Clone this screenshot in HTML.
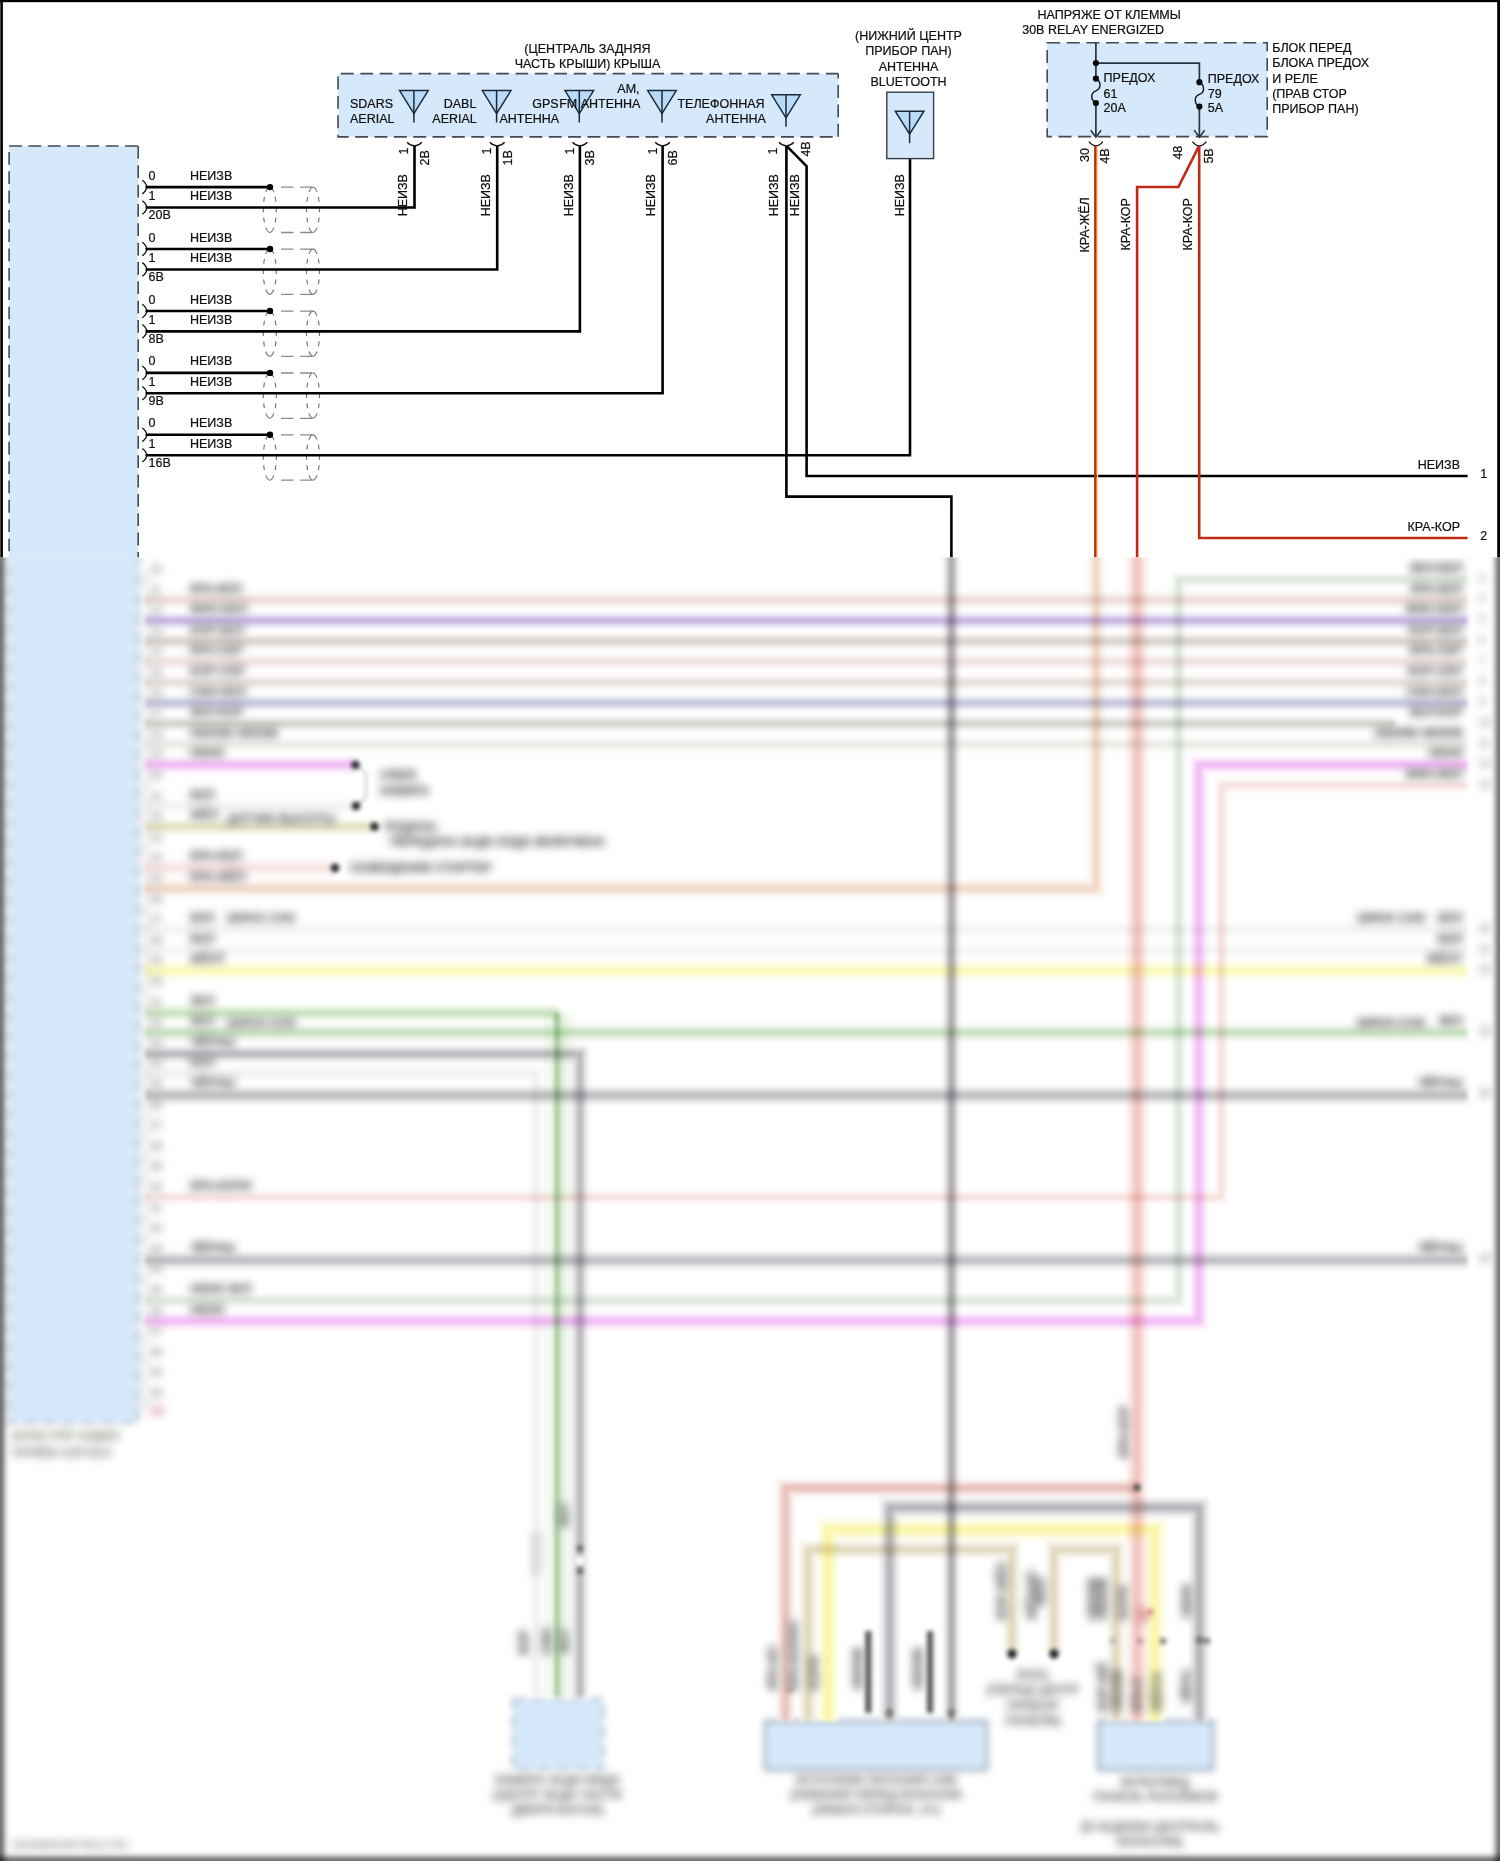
<!DOCTYPE html>
<html lang="ru"><head><meta charset="utf-8"><title>Wiring diagram</title>
<style>html,body{margin:0;padding:0;background:#fff;}svg{display:block;}text{font-family:"Liberation Sans",sans-serif;}</style></head><body>
<svg width="1500" height="1861" viewBox="0 0 1500 1861">
<defs>
<filter id="bl" color-interpolation-filters="sRGB" x="0" y="0" width="1500" height="1861" filterUnits="userSpaceOnUse"><feGaussianBlur stdDeviation="3.6"/></filter>
<filter id="bw" color-interpolation-filters="sRGB" x="0" y="0" width="1500" height="1861" filterUnits="userSpaceOnUse"><feGaussianBlur stdDeviation="2.0"/></filter>
<filter id="bt" color-interpolation-filters="sRGB" x="0" y="0" width="1500" height="1861" filterUnits="userSpaceOnUse"><feGaussianBlur stdDeviation="4.0"/></filter>
<clipPath id="cb"><rect x="0" y="557.5" width="1500" height="1303.5"/></clipPath>
<clipPath id="ct"><rect x="0" y="0" width="1500" height="557.5"/></clipPath>
</defs>
<rect x="0" y="0" width="1500" height="1861" fill="#fff"/>
<g clip-path="url(#ct)" opacity="0.999">
<rect x="9" y="146" width="129" height="413.5" fill="#d6e9fb"/>
<path d="M9.1,146 H138.2" fill="none" stroke="#414a55" stroke-width="1.6" stroke-dasharray="12.8 6.53" stroke-dashoffset="0"/>
<path d="M138.2,146 V559.5" fill="none" stroke="#414a55" stroke-width="1.6" stroke-dasharray="12.8 6.53" stroke-dashoffset="0"/>
<path d="M9.1,146 V559.5" fill="none" stroke="#414a55" stroke-width="1.6" stroke-dasharray="12.8 6.53" stroke-dashoffset="13.43"/>
<path d="M142.3,180.29999999999998 Q151.2,187.1 142.3,193.9" fill="none" stroke="#111" stroke-width="1.3"/>
<path d="M142.3,200.7 Q151.2,207.5 142.3,214.3" fill="none" stroke="#111" stroke-width="1.3"/>
<line x1="145.5" y1="187.1" x2="270" y2="187.1" stroke="#000" stroke-width="2.6" />
<text x="148.6" y="179.7" text-anchor="start" font-size="12.5" fill="#111" stroke="#111" stroke-width="0.22" >0</text>
<text x="190" y="179.7" text-anchor="start" font-size="12.5" fill="#111" stroke="#111" stroke-width="0.22" >НЕИЗВ</text>
<text x="148.6" y="200.1" text-anchor="start" font-size="12.5" fill="#111" stroke="#111" stroke-width="0.22" >1</text>
<text x="190" y="200.1" text-anchor="start" font-size="12.5" fill="#111" stroke="#111" stroke-width="0.22" >НЕИЗВ</text>
<text x="148.6" y="219.4" text-anchor="start" font-size="12.5" fill="#111" stroke="#111" stroke-width="0.22" >20B</text>
<path d="M265.80,191.99 A6.5,22.6 0 0 1 273.80,191.99 M275.12,196.84 A6.5,22.6 0 0 1 275.87,201.70 M276.28,208.22 A6.5,22.6 0 0 1 276.26,212.16 M275.91,217.53 A6.5,22.6 0 0 1 275.19,222.44 M273.80,227.61 A6.5,22.6 0 0 1 265.80,227.61 M264.41,222.44 A6.5,22.6 0 0 1 263.69,217.53 M263.34,212.16 A6.5,22.6 0 0 1 263.32,208.22 M263.73,201.70 A6.5,22.6 0 0 1 264.48,196.84 M309.00,191.99 A6.5,22.6 0 0 1 317.00,191.99 M318.32,196.84 A6.5,22.6 0 0 1 319.07,201.70 M319.48,208.22 A6.5,22.6 0 0 1 319.46,212.16 M319.11,217.53 A6.5,22.6 0 0 1 318.39,222.44 M317.00,227.61 A6.5,22.6 0 0 1 309.00,227.61 M307.61,222.44 A6.5,22.6 0 0 1 306.89,217.53 M306.54,212.16 A6.5,22.6 0 0 1 306.52,208.22 M306.93,201.70 A6.5,22.6 0 0 1 307.68,196.84 " fill="none" stroke="#747474" stroke-width="1.15"/>
<path d="M281,187.2 H293.5 M300.2,187.2 H312 M281,232.5 H293.5 M300.2,232.5 H312" stroke="#8a8a8a" stroke-width="1.3" fill="none"/>
<circle cx="270" cy="187.1" r="3.2" fill="#000"/>
<polyline points="145.5,207.5 414.5,207.5 414.5,145.8" fill="none" stroke="#000" stroke-width="2.6" stroke-linejoin="miter" />
<path d="M142.3,242.23 Q151.2,249.03 142.3,255.83" fill="none" stroke="#111" stroke-width="1.3"/>
<path d="M142.3,262.63 Q151.2,269.43 142.3,276.23" fill="none" stroke="#111" stroke-width="1.3"/>
<line x1="145.5" y1="249.03" x2="270" y2="249.03" stroke="#000" stroke-width="2.6" />
<text x="148.6" y="241.63" text-anchor="start" font-size="12.5" fill="#111" stroke="#111" stroke-width="0.22" >0</text>
<text x="190" y="241.63" text-anchor="start" font-size="12.5" fill="#111" stroke="#111" stroke-width="0.22" >НЕИЗВ</text>
<text x="148.6" y="262.03000000000003" text-anchor="start" font-size="12.5" fill="#111" stroke="#111" stroke-width="0.22" >1</text>
<text x="190" y="262.03000000000003" text-anchor="start" font-size="12.5" fill="#111" stroke="#111" stroke-width="0.22" >НЕИЗВ</text>
<text x="148.6" y="281.33" text-anchor="start" font-size="12.5" fill="#111" stroke="#111" stroke-width="0.22" >6B</text>
<path d="M265.80,253.92 A6.5,22.6 0 0 1 273.80,253.92 M275.12,258.77 A6.5,22.6 0 0 1 275.87,263.63 M276.28,270.15 A6.5,22.6 0 0 1 276.26,274.09 M275.91,279.46 A6.5,22.6 0 0 1 275.19,284.37 M273.80,289.54 A6.5,22.6 0 0 1 265.80,289.54 M264.41,284.37 A6.5,22.6 0 0 1 263.69,279.46 M263.34,274.09 A6.5,22.6 0 0 1 263.32,270.15 M263.73,263.63 A6.5,22.6 0 0 1 264.48,258.77 M309.00,253.92 A6.5,22.6 0 0 1 317.00,253.92 M318.32,258.77 A6.5,22.6 0 0 1 319.07,263.63 M319.48,270.15 A6.5,22.6 0 0 1 319.46,274.09 M319.11,279.46 A6.5,22.6 0 0 1 318.39,284.37 M317.00,289.54 A6.5,22.6 0 0 1 309.00,289.54 M307.61,284.37 A6.5,22.6 0 0 1 306.89,279.46 M306.54,274.09 A6.5,22.6 0 0 1 306.52,270.15 M306.93,263.63 A6.5,22.6 0 0 1 307.68,258.77 " fill="none" stroke="#747474" stroke-width="1.15"/>
<path d="M281,249.13 H293.5 M300.2,249.13 H312 M281,294.43 H293.5 M300.2,294.43 H312" stroke="#8a8a8a" stroke-width="1.3" fill="none"/>
<circle cx="270" cy="249.03" r="3.2" fill="#000"/>
<polyline points="145.5,269.43 497.2,269.43 497.2,145.8" fill="none" stroke="#000" stroke-width="2.6" stroke-linejoin="miter" />
<path d="M142.3,304.15999999999997 Q151.2,310.96 142.3,317.76" fill="none" stroke="#111" stroke-width="1.3"/>
<path d="M142.3,324.56 Q151.2,331.36 142.3,338.16" fill="none" stroke="#111" stroke-width="1.3"/>
<line x1="145.5" y1="310.96" x2="270" y2="310.96" stroke="#000" stroke-width="2.6" />
<text x="148.6" y="303.56" text-anchor="start" font-size="12.5" fill="#111" stroke="#111" stroke-width="0.22" >0</text>
<text x="190" y="303.56" text-anchor="start" font-size="12.5" fill="#111" stroke="#111" stroke-width="0.22" >НЕИЗВ</text>
<text x="148.6" y="323.96000000000004" text-anchor="start" font-size="12.5" fill="#111" stroke="#111" stroke-width="0.22" >1</text>
<text x="190" y="323.96000000000004" text-anchor="start" font-size="12.5" fill="#111" stroke="#111" stroke-width="0.22" >НЕИЗВ</text>
<text x="148.6" y="343.26" text-anchor="start" font-size="12.5" fill="#111" stroke="#111" stroke-width="0.22" >8B</text>
<path d="M265.80,315.85 A6.5,22.6 0 0 1 273.80,315.85 M275.12,320.70 A6.5,22.6 0 0 1 275.87,325.56 M276.28,332.08 A6.5,22.6 0 0 1 276.26,336.02 M275.91,341.39 A6.5,22.6 0 0 1 275.19,346.30 M273.80,351.47 A6.5,22.6 0 0 1 265.80,351.47 M264.41,346.30 A6.5,22.6 0 0 1 263.69,341.39 M263.34,336.02 A6.5,22.6 0 0 1 263.32,332.08 M263.73,325.56 A6.5,22.6 0 0 1 264.48,320.70 M309.00,315.85 A6.5,22.6 0 0 1 317.00,315.85 M318.32,320.70 A6.5,22.6 0 0 1 319.07,325.56 M319.48,332.08 A6.5,22.6 0 0 1 319.46,336.02 M319.11,341.39 A6.5,22.6 0 0 1 318.39,346.30 M317.00,351.47 A6.5,22.6 0 0 1 309.00,351.47 M307.61,346.30 A6.5,22.6 0 0 1 306.89,341.39 M306.54,336.02 A6.5,22.6 0 0 1 306.52,332.08 M306.93,325.56 A6.5,22.6 0 0 1 307.68,320.70 " fill="none" stroke="#747474" stroke-width="1.15"/>
<path d="M281,311.06 H293.5 M300.2,311.06 H312 M281,356.35999999999996 H293.5 M300.2,356.35999999999996 H312" stroke="#8a8a8a" stroke-width="1.3" fill="none"/>
<circle cx="270" cy="310.96" r="3.2" fill="#000"/>
<polyline points="145.5,331.36 579.9,331.36 579.9,145.8" fill="none" stroke="#000" stroke-width="2.6" stroke-linejoin="miter" />
<path d="M142.3,366.09 Q151.2,372.89 142.3,379.69" fill="none" stroke="#111" stroke-width="1.3"/>
<path d="M142.3,386.48999999999995 Q151.2,393.28999999999996 142.3,400.09" fill="none" stroke="#111" stroke-width="1.3"/>
<line x1="145.5" y1="372.89" x2="270" y2="372.89" stroke="#000" stroke-width="2.6" />
<text x="148.6" y="365.49" text-anchor="start" font-size="12.5" fill="#111" stroke="#111" stroke-width="0.22" >0</text>
<text x="190" y="365.49" text-anchor="start" font-size="12.5" fill="#111" stroke="#111" stroke-width="0.22" >НЕИЗВ</text>
<text x="148.6" y="385.89" text-anchor="start" font-size="12.5" fill="#111" stroke="#111" stroke-width="0.22" >1</text>
<text x="190" y="385.89" text-anchor="start" font-size="12.5" fill="#111" stroke="#111" stroke-width="0.22" >НЕИЗВ</text>
<text x="148.6" y="405.18999999999994" text-anchor="start" font-size="12.5" fill="#111" stroke="#111" stroke-width="0.22" >9B</text>
<path d="M265.80,377.78 A6.5,22.6 0 0 1 273.80,377.78 M275.12,382.63 A6.5,22.6 0 0 1 275.87,387.49 M276.28,394.01 A6.5,22.6 0 0 1 276.26,397.95 M275.91,403.32 A6.5,22.6 0 0 1 275.19,408.23 M273.80,413.40 A6.5,22.6 0 0 1 265.80,413.40 M264.41,408.23 A6.5,22.6 0 0 1 263.69,403.32 M263.34,397.95 A6.5,22.6 0 0 1 263.32,394.01 M263.73,387.49 A6.5,22.6 0 0 1 264.48,382.63 M309.00,377.78 A6.5,22.6 0 0 1 317.00,377.78 M318.32,382.63 A6.5,22.6 0 0 1 319.07,387.49 M319.48,394.01 A6.5,22.6 0 0 1 319.46,397.95 M319.11,403.32 A6.5,22.6 0 0 1 318.39,408.23 M317.00,413.40 A6.5,22.6 0 0 1 309.00,413.40 M307.61,408.23 A6.5,22.6 0 0 1 306.89,403.32 M306.54,397.95 A6.5,22.6 0 0 1 306.52,394.01 M306.93,387.49 A6.5,22.6 0 0 1 307.68,382.63 " fill="none" stroke="#747474" stroke-width="1.15"/>
<path d="M281,372.99 H293.5 M300.2,372.99 H312 M281,418.28999999999996 H293.5 M300.2,418.28999999999996 H312" stroke="#8a8a8a" stroke-width="1.3" fill="none"/>
<circle cx="270" cy="372.89" r="3.2" fill="#000"/>
<polyline points="145.5,393.28999999999996 662.6,393.28999999999996 662.6,145.8" fill="none" stroke="#000" stroke-width="2.6" stroke-linejoin="miter" />
<path d="M142.3,428.02 Q151.2,434.82 142.3,441.62" fill="none" stroke="#111" stroke-width="1.3"/>
<path d="M142.3,448.42 Q151.2,455.22 142.3,462.02000000000004" fill="none" stroke="#111" stroke-width="1.3"/>
<line x1="145.5" y1="434.82" x2="270" y2="434.82" stroke="#000" stroke-width="2.6" />
<text x="148.6" y="427.42" text-anchor="start" font-size="12.5" fill="#111" stroke="#111" stroke-width="0.22" >0</text>
<text x="190" y="427.42" text-anchor="start" font-size="12.5" fill="#111" stroke="#111" stroke-width="0.22" >НЕИЗВ</text>
<text x="148.6" y="447.82000000000005" text-anchor="start" font-size="12.5" fill="#111" stroke="#111" stroke-width="0.22" >1</text>
<text x="190" y="447.82000000000005" text-anchor="start" font-size="12.5" fill="#111" stroke="#111" stroke-width="0.22" >НЕИЗВ</text>
<text x="148.6" y="467.12" text-anchor="start" font-size="12.5" fill="#111" stroke="#111" stroke-width="0.22" >16B</text>
<path d="M265.80,439.71 A6.5,22.6 0 0 1 273.80,439.71 M275.12,444.56 A6.5,22.6 0 0 1 275.87,449.42 M276.28,455.94 A6.5,22.6 0 0 1 276.26,459.88 M275.91,465.25 A6.5,22.6 0 0 1 275.19,470.16 M273.80,475.33 A6.5,22.6 0 0 1 265.80,475.33 M264.41,470.16 A6.5,22.6 0 0 1 263.69,465.25 M263.34,459.88 A6.5,22.6 0 0 1 263.32,455.94 M263.73,449.42 A6.5,22.6 0 0 1 264.48,444.56 M309.00,439.71 A6.5,22.6 0 0 1 317.00,439.71 M318.32,444.56 A6.5,22.6 0 0 1 319.07,449.42 M319.48,455.94 A6.5,22.6 0 0 1 319.46,459.88 M319.11,465.25 A6.5,22.6 0 0 1 318.39,470.16 M317.00,475.33 A6.5,22.6 0 0 1 309.00,475.33 M307.61,470.16 A6.5,22.6 0 0 1 306.89,465.25 M306.54,459.88 A6.5,22.6 0 0 1 306.52,455.94 M306.93,449.42 A6.5,22.6 0 0 1 307.68,444.56 " fill="none" stroke="#747474" stroke-width="1.15"/>
<path d="M281,434.92 H293.5 M300.2,434.92 H312 M281,480.21999999999997 H293.5 M300.2,480.21999999999997 H312" stroke="#8a8a8a" stroke-width="1.3" fill="none"/>
<circle cx="270" cy="434.82" r="3.2" fill="#000"/>
<polyline points="145.5,455.22 910.0,455.22 910.0,158.6" fill="none" stroke="#000" stroke-width="2.6" stroke-linejoin="miter" />
<rect x="338" y="73.65" width="500.2" height="63.2" fill="#d6e9fb"/>
<path d="M338,73.65 V136.85 H838.2" fill="none" stroke="#414a55" stroke-width="1.6" stroke-dasharray="12.9 6.46" stroke-dashoffset="16.46"/>
<path d="M838.2,136.85 V73.65" fill="none" stroke="#414a55" stroke-width="1.6" stroke-dasharray="13 6.45" stroke-dashoffset="0"/>
<path d="M338,73.65 H838.2" fill="none" stroke="#414a55" stroke-width="1.6" stroke-dasharray="12.6 6.8" stroke-dashoffset="16.4"/>
<text x="587.5" y="53.0" text-anchor="middle" font-size="12.5" fill="#111" stroke="#111" stroke-width="0.22" >(ЦЕНТРАЛЬ ЗАДНЯЯ</text>
<text x="587.5" y="68.4" text-anchor="middle" font-size="12.5" fill="#111" stroke="#111" stroke-width="0.22" >ЧАСТЬ КРЫШИ) КРЫША</text>
<path d="M399.59999999999997,90.6 H428.2 L413.9,113.6 Z" fill="#b9dbf8" stroke="#1b2a3a" stroke-width="1.5" stroke-linejoin="miter"/>
<line x1="413.9" y1="90.6" x2="413.9" y2="122.5" stroke="#1b2a3a" stroke-width="1.5"/>
<path d="M407.1,142.2 Q410.5,145.79999999999998 414.5,145.79999999999998 Q418.5,145.79999999999998 421.9,142.2" fill="none" stroke="#111" stroke-width="1.3"/>
<text transform="translate(408.4,154.4) rotate(-90)" text-anchor="start" font-size="12.5" fill="#111" stroke="#111" stroke-width="0.22">1</text>
<text transform="translate(429.0,165.4) rotate(-90)" text-anchor="start" font-size="12.5" fill="#111" stroke="#111" stroke-width="0.22">2B</text>
<text transform="translate(407.3,216.3) rotate(-90)" text-anchor="start" font-size="12.5" fill="#111" stroke="#111" stroke-width="0.22">НЕИЗВ</text>
<path d="M482.29999999999995,90.6 H510.9 L496.59999999999997,113.6 Z" fill="#b9dbf8" stroke="#1b2a3a" stroke-width="1.5" stroke-linejoin="miter"/>
<line x1="496.59999999999997" y1="90.6" x2="496.59999999999997" y2="122.5" stroke="#1b2a3a" stroke-width="1.5"/>
<path d="M489.8,142.2 Q493.2,145.79999999999998 497.2,145.79999999999998 Q501.2,145.79999999999998 504.59999999999997,142.2" fill="none" stroke="#111" stroke-width="1.3"/>
<text transform="translate(491.09999999999997,154.4) rotate(-90)" text-anchor="start" font-size="12.5" fill="#111" stroke="#111" stroke-width="0.22">1</text>
<text transform="translate(511.7,165.4) rotate(-90)" text-anchor="start" font-size="12.5" fill="#111" stroke="#111" stroke-width="0.22">1B</text>
<text transform="translate(490.0,216.3) rotate(-90)" text-anchor="start" font-size="12.5" fill="#111" stroke="#111" stroke-width="0.22">НЕИЗВ</text>
<path d="M565.0,90.6 H593.5999999999999 L579.3,113.6 Z" fill="#b9dbf8" stroke="#1b2a3a" stroke-width="1.5" stroke-linejoin="miter"/>
<line x1="579.3" y1="90.6" x2="579.3" y2="122.5" stroke="#1b2a3a" stroke-width="1.5"/>
<path d="M572.5,142.2 Q575.9,145.79999999999998 579.9,145.79999999999998 Q583.9,145.79999999999998 587.3,142.2" fill="none" stroke="#111" stroke-width="1.3"/>
<text transform="translate(573.8,154.4) rotate(-90)" text-anchor="start" font-size="12.5" fill="#111" stroke="#111" stroke-width="0.22">1</text>
<text transform="translate(594.4,165.4) rotate(-90)" text-anchor="start" font-size="12.5" fill="#111" stroke="#111" stroke-width="0.22">3B</text>
<text transform="translate(572.6999999999999,216.3) rotate(-90)" text-anchor="start" font-size="12.5" fill="#111" stroke="#111" stroke-width="0.22">НЕИЗВ</text>
<path d="M647.7,90.6 H676.3 L662.0,113.6 Z" fill="#b9dbf8" stroke="#1b2a3a" stroke-width="1.5" stroke-linejoin="miter"/>
<line x1="662.0" y1="90.6" x2="662.0" y2="122.5" stroke="#1b2a3a" stroke-width="1.5"/>
<path d="M655.2,142.2 Q658.6,145.79999999999998 662.6,145.79999999999998 Q666.6,145.79999999999998 670.0,142.2" fill="none" stroke="#111" stroke-width="1.3"/>
<text transform="translate(656.5,154.4) rotate(-90)" text-anchor="start" font-size="12.5" fill="#111" stroke="#111" stroke-width="0.22">1</text>
<text transform="translate(677.1,165.4) rotate(-90)" text-anchor="start" font-size="12.5" fill="#111" stroke="#111" stroke-width="0.22">6B</text>
<text transform="translate(655.4,216.3) rotate(-90)" text-anchor="start" font-size="12.5" fill="#111" stroke="#111" stroke-width="0.22">НЕИЗВ</text>
<text x="350" y="107.6" text-anchor="start" font-size="12.5" fill="#111" stroke="#111" stroke-width="0.22" >SDARS</text>
<text x="350" y="122.5" text-anchor="start" font-size="12.5" fill="#111" stroke="#111" stroke-width="0.22" >AERIAL</text>
<text x="476.4" y="107.6" text-anchor="end" font-size="12.5" fill="#111" stroke="#111" stroke-width="0.22" >DABL</text>
<text x="476.8" y="122.5" text-anchor="end" font-size="12.5" fill="#111" stroke="#111" stroke-width="0.22" >AERIAL</text>
<text x="558.6" y="107.6" text-anchor="end" font-size="12.5" fill="#111" stroke="#111" stroke-width="0.22" >GPS</text>
<text x="559.2" y="122.5" text-anchor="end" font-size="12.5" fill="#111" stroke="#111" stroke-width="0.22" >АНТЕННА</text>
<text x="639.6" y="92.9" text-anchor="end" font-size="12.5" fill="#111" stroke="#111" stroke-width="0.22" >АМ,</text>
<text x="640.4" y="107.6" text-anchor="end" font-size="12.5" fill="#111" stroke="#111" stroke-width="0.22" >FM АНТЕННА</text>
<text x="764.6" y="107.6" text-anchor="end" font-size="12.5" fill="#111" stroke="#111" stroke-width="0.22" >ТЕЛЕФОННАЯ</text>
<text x="765.8" y="122.5" text-anchor="end" font-size="12.5" fill="#111" stroke="#111" stroke-width="0.22" >АНТЕННА</text>
<path d="M771.7,94.8 H800.3 L786.0,117.8 Z" fill="#b9dbf8" stroke="#1b2a3a" stroke-width="1.5" stroke-linejoin="miter"/>
<line x1="786.0" y1="94.8" x2="786.0" y2="126.69999999999999" stroke="#1b2a3a" stroke-width="1.5"/>
<path d="M779.0,142.2 Q782.4,145.79999999999998 786.4,145.79999999999998 Q790.4,145.79999999999998 793.8,142.2" fill="none" stroke="#111" stroke-width="1.3"/>
<polyline points="786.4,145.8 786.4,496.6 951.4,496.6 951.4,558.5" fill="none" stroke="#000" stroke-width="2.6" stroke-linejoin="miter" />
<polyline points="786.8,146.2 806.6,166.2 806.6,476 1467.6,476" fill="none" stroke="#000" stroke-width="2.6" stroke-linejoin="miter" />
<text transform="translate(777.2,154.4) rotate(-90)" text-anchor="start" font-size="12.5" fill="#111" stroke="#111" stroke-width="0.22">1</text>
<text transform="translate(810.2,156.6) rotate(-90)" text-anchor="start" font-size="12.5" fill="#111" stroke="#111" stroke-width="0.22">4B</text>
<text transform="translate(778.2,216.3) rotate(-90)" text-anchor="start" font-size="12.5" fill="#111" stroke="#111" stroke-width="0.22">НЕИЗВ</text>
<text transform="translate(798.8,216.3) rotate(-90)" text-anchor="start" font-size="12.5" fill="#111" stroke="#111" stroke-width="0.22">НЕИЗВ</text>
<text x="908.5" y="40" text-anchor="middle" font-size="12.5" fill="#111" stroke="#111" stroke-width="0.22" >(НИЖНИЙ ЦЕНТР</text>
<text x="908.5" y="55.4" text-anchor="middle" font-size="12.5" fill="#111" stroke="#111" stroke-width="0.22" >ПРИБОР ПАН)</text>
<text x="908.5" y="70.9" text-anchor="middle" font-size="12.5" fill="#111" stroke="#111" stroke-width="0.22" >АНТЕННА</text>
<text x="908.5" y="86.3" text-anchor="middle" font-size="12.5" fill="#111" stroke="#111" stroke-width="0.22" >BLUETOOTH</text>
<rect x="886.8" y="92.2" width="46.8" height="66.4" fill="#d6e9fb" stroke="#333c46" stroke-width="1.4"/>
<path d="M895.3000000000001,111.2 H923.9 L909.6,134.2 Z" fill="#b9dbf8" stroke="#1b2a3a" stroke-width="1.5" stroke-linejoin="miter"/>
<line x1="909.6" y1="111.2" x2="909.6" y2="143.1" stroke="#1b2a3a" stroke-width="1.5"/>
<text transform="translate(903.8,216.3) rotate(-90)" text-anchor="start" font-size="12.5" fill="#111" stroke="#111" stroke-width="0.22">НЕИЗВ</text>
<text x="1037.6" y="18.6" text-anchor="start" font-size="12.5" fill="#111" stroke="#111" stroke-width="0.22" >НАПРЯЖЕ ОТ КЛЕММЫ</text>
<text x="1022.2" y="34.0" text-anchor="start" font-size="12.5" fill="#111" stroke="#111" stroke-width="0.22" >30B RELAY ENERGIZED</text>
<rect x="1047.2" y="42.7" width="220" height="93.9" fill="#d6e9fb"/>
<path d="M1047.2,42.7 H1267.2 V136.6 H1047.2 Z" fill="none" stroke="#414a55" stroke-width="1.6" stroke-dasharray="13 6.6" stroke-dashoffset="0"/>
<line x1="1095.9" y1="42.8" x2="1095.9" y2="78.6" stroke="#2a3440" stroke-width="1.7" />
<line x1="1095.9" y1="103" x2="1095.9" y2="136.6" stroke="#2a3440" stroke-width="1.7" />
<polyline points="1095.9,63.1 1199.4,63.1 1199.4,82.2" fill="none" stroke="#2a3440" stroke-width="1.7" stroke-linejoin="miter" />
<line x1="1199.4" y1="106.6" x2="1199.4" y2="136.6" stroke="#2a3440" stroke-width="1.7" />
<circle cx="1095.9" cy="63.1" r="3.1" fill="#0a0a0a"/>
<circle cx="1095.9" cy="78.6" r="3.1" fill="#0a0a0a"/>
<circle cx="1095.9" cy="103" r="3.1" fill="#0a0a0a"/>
<circle cx="1199.4" cy="82.2" r="3.1" fill="#0a0a0a"/>
<circle cx="1199.4" cy="106.6" r="3.1" fill="#0a0a0a"/>
<path d="M1095.9,78.6 C1101.4,81.6 1101.4,88.8 1095.9,90.8 C1090.4,92.8 1090.4,100 1095.9,103" fill="none" stroke="#111" stroke-width="1.4"/>
<path d="M1199.4,82.2 C1204.9,85.2 1204.9,92.4 1199.4,94.4 C1193.9,96.4 1193.9,103.6 1199.4,106.6" fill="none" stroke="#111" stroke-width="1.4"/>
<path d="M1090.7,130.2 L1095.9,137.2 L1101.1000000000001,130.2" fill="none" stroke="#2a3440" stroke-width="1.5"/>
<path d="M1088.9,141.6 Q1092.4,145.8 1095.9,145.8 Q1099.4,145.8 1102.9,141.6" fill="none" stroke="#111" stroke-width="1.3"/>
<path d="M1194.2,130.2 L1199.4,137.2 L1204.6000000000001,130.2" fill="none" stroke="#2a3440" stroke-width="1.5"/>
<path d="M1192.4,141.6 Q1195.9,145.8 1199.4,145.8 Q1202.9,145.8 1206.4,141.6" fill="none" stroke="#111" stroke-width="1.3"/>
<text x="1103.6" y="82.2" text-anchor="start" font-size="12.5" fill="#111" stroke="#111" stroke-width="0.22" >ПРЕДОХ</text>
<text x="1103.6" y="97.5" text-anchor="start" font-size="12.5" fill="#111" stroke="#111" stroke-width="0.22" >61</text>
<text x="1103.6" y="111.5" text-anchor="start" font-size="12.5" fill="#111" stroke="#111" stroke-width="0.22" >20A</text>
<text x="1207.8" y="82.6" text-anchor="start" font-size="12.5" fill="#111" stroke="#111" stroke-width="0.22" >ПРЕДОХ</text>
<text x="1207.8" y="98" text-anchor="start" font-size="12.5" fill="#111" stroke="#111" stroke-width="0.22" >79</text>
<text x="1207.8" y="112" text-anchor="start" font-size="12.5" fill="#111" stroke="#111" stroke-width="0.22" >5A</text>
<text x="1272.2" y="51.6" text-anchor="start" font-size="12.5" fill="#111" stroke="#111" stroke-width="0.22" >БЛОК ПЕРЕД</text>
<text x="1272.2" y="67.05" text-anchor="start" font-size="12.5" fill="#111" stroke="#111" stroke-width="0.22" >БЛОКА ПРЕДОХ</text>
<text x="1272.2" y="82.5" text-anchor="start" font-size="12.5" fill="#111" stroke="#111" stroke-width="0.22" >И РЕЛЕ</text>
<text x="1272.2" y="97.94999999999999" text-anchor="start" font-size="12.5" fill="#111" stroke="#111" stroke-width="0.22" >(ПРАВ СТОР</text>
<text x="1272.2" y="113.4" text-anchor="start" font-size="12.5" fill="#111" stroke="#111" stroke-width="0.22" >ПРИБОР ПАН)</text>
<text transform="translate(1088.9,162) rotate(-90)" text-anchor="start" font-size="12.5" fill="#111" stroke="#111" stroke-width="0.22">30</text>
<text transform="translate(1109.2,163.6) rotate(-90)" text-anchor="start" font-size="12.5" fill="#111" stroke="#111" stroke-width="0.22">4B</text>
<text transform="translate(1181.8,159.6) rotate(-90)" text-anchor="start" font-size="12.5" fill="#111" stroke="#111" stroke-width="0.22">48</text>
<text transform="translate(1212.6,163.6) rotate(-90)" text-anchor="start" font-size="12.5" fill="#111" stroke="#111" stroke-width="0.22">5B</text>
<line x1="1095.4" y1="146" x2="1095.4" y2="558.5" stroke="#c02a14" stroke-width="2.6" />
<line x1="1097.5" y1="146" x2="1097.5" y2="558.5" stroke="#ffe27a" stroke-width="1.3" />
<polyline points="1198.8,146.4 1178.4,187 1137.1,187 1137.1,558.5" fill="none" stroke="#c02a14" stroke-width="2.6" stroke-linejoin="miter" />
<polyline points="1199.2,146 1199.2,538 1467.6,538" fill="none" stroke="#c02a14" stroke-width="2.6" stroke-linejoin="miter" />
<text transform="translate(1088.8,252.6) rotate(-90)" text-anchor="start" font-size="12.5" fill="#111" stroke="#111" stroke-width="0.22">КРА-ЖЁЛ</text>
<text transform="translate(1130,250.6) rotate(-90)" text-anchor="start" font-size="12.5" fill="#111" stroke="#111" stroke-width="0.22">КРА-КОР</text>
<text transform="translate(1192,250.6) rotate(-90)" text-anchor="start" font-size="12.5" fill="#111" stroke="#111" stroke-width="0.22">КРА-КОР</text>
<text x="1460" y="468.6" text-anchor="end" font-size="12.5" fill="#111" stroke="#111" stroke-width="0.22" >НЕИЗВ</text>
<text x="1460" y="530.8" text-anchor="end" font-size="12.5" fill="#111" stroke="#111" stroke-width="0.22" >КРА-КОР</text>
<text x="1480.2" y="478" text-anchor="start" font-size="12.5" fill="#111" stroke="#111" stroke-width="0.22" >1</text>
<text x="1480.2" y="540.4" text-anchor="start" font-size="12.5" fill="#111" stroke="#111" stroke-width="0.22" >2</text>
<rect x="0.3" y="0" width="2.6" height="1861" fill="#000"/><rect x="1497.2" y="0" width="2.8" height="1861" fill="#000"/><rect x="0" y="0" width="1500" height="2.2" fill="#000"/>
</g>
<g clip-path="url(#cb)">
<g filter="url(#bl)">
<rect x="-20" y="537.5" width="1540" height="1400" fill="#fff"/>
<rect x="9" y="545.5" width="129" height="877.5" fill="#d6e9fb"/>
<path d="M9,545.5 V1423 H138 V545.5" fill="none" stroke="#8591a0" stroke-width="1.7" stroke-dasharray="12.4 7"/>
<rect x="513" y="1699" width="90" height="70" fill="#d6e9fb"/>
<path d="M513,1699 H603 V1769 H513 Z" fill="none" stroke="#8591a0" stroke-width="1.7" stroke-dasharray="12.4 7"/>
<rect x="765" y="1721" width="222" height="49" fill="#d6e9fb" stroke="#66788a" stroke-width="1.8"/>
<rect x="1098" y="1721" width="115" height="49" fill="#d6e9fb" stroke="#66788a" stroke-width="1.8"/>
<rect x="-2.7" y="500" width="5.4" height="1400" fill="#000"/><rect x="1497.3" y="500" width="5.4" height="1400" fill="#000"/><rect x="-10" y="1858.3" width="1520" height="5.4" fill="#000"/>
</g>
<g filter="url(#bw)">
<polyline points="951.4,545.5 951.4,1721" fill="none" stroke="#e3e1e3" stroke-width="14.4" stroke-linejoin="miter" style="mix-blend-mode:multiply" stroke-linejoin="round"/>
<polyline points="951.4,545.5 951.4,1721" fill="none" stroke="#bfbcbf" stroke-width="6.4" stroke-linejoin="miter" style="mix-blend-mode:multiply"/>
<polyline points="1096.2,545.5 1096.2,888.4 145.5,888.4" fill="none" stroke="#faf2ec" stroke-width="15.75" stroke-linejoin="miter" style="mix-blend-mode:multiply" stroke-linejoin="round"/>
<polyline points="1096.2,545.5 1096.2,888.4 145.5,888.4" fill="none" stroke="#f6e4d8" stroke-width="7" stroke-linejoin="miter" style="mix-blend-mode:multiply"/>
<polyline points="1137.1,545.5 1137.1,1721" fill="none" stroke="#fbebe9" stroke-width="20.25" stroke-linejoin="miter" style="mix-blend-mode:multiply" stroke-linejoin="round"/>
<polyline points="1137.1,545.5 1137.1,1721" fill="none" stroke="#f7d8d3" stroke-width="9" stroke-linejoin="miter" style="mix-blend-mode:multiply"/>
<polyline points="145.5,600.0 1467.6,600.0" fill="none" stroke="#f8f3f2" stroke-width="14.4" stroke-linejoin="miter" style="mix-blend-mode:multiply" stroke-linejoin="round"/>
<polyline points="145.5,600.0 1467.6,600.0" fill="none" stroke="#f2e6e3" stroke-width="6.4" stroke-linejoin="miter" style="mix-blend-mode:multiply"/>
<polyline points="145.5,620.6 1467.6,620.6" fill="none" stroke="#ebe5f5" stroke-width="14.4" stroke-linejoin="miter" style="mix-blend-mode:multiply" stroke-linejoin="round"/>
<polyline points="145.5,620.6 1467.6,620.6" fill="none" stroke="#d4c6eb" stroke-width="6.4" stroke-linejoin="miter" style="mix-blend-mode:multiply"/>
<polyline points="145.5,641.1999999999999 1467.6,641.1999999999999" fill="none" stroke="#f2f0ee" stroke-width="14.4" stroke-linejoin="miter" style="mix-blend-mode:multiply" stroke-linejoin="round"/>
<polyline points="145.5,641.1999999999999 1467.6,641.1999999999999" fill="none" stroke="#e4dedb" stroke-width="6.4" stroke-linejoin="miter" style="mix-blend-mode:multiply"/>
<polyline points="145.5,661.8 1467.6,661.8" fill="none" stroke="#faf5f5" stroke-width="14.4" stroke-linejoin="miter" style="mix-blend-mode:multiply" stroke-linejoin="round"/>
<polyline points="145.5,661.8 1467.6,661.8" fill="none" stroke="#f4ebeb" stroke-width="6.4" stroke-linejoin="miter" style="mix-blend-mode:multiply"/>
<polyline points="145.5,682.4 1467.6,682.4" fill="none" stroke="#f7f4f2" stroke-width="14.4" stroke-linejoin="miter" style="mix-blend-mode:multiply" stroke-linejoin="round"/>
<polyline points="145.5,682.4 1467.6,682.4" fill="none" stroke="#eee7e4" stroke-width="6.4" stroke-linejoin="miter" style="mix-blend-mode:multiply"/>
<polyline points="145.5,703.0 1467.6,703.0" fill="none" stroke="#ebebf4" stroke-width="14.4" stroke-linejoin="miter" style="mix-blend-mode:multiply" stroke-linejoin="round"/>
<polyline points="145.5,703.0 1467.6,703.0" fill="none" stroke="#d4d4e7" stroke-width="6.4" stroke-linejoin="miter" style="mix-blend-mode:multiply"/>
<polyline points="145.5,723.6 1395,723.6" fill="none" stroke="#f0f0ee" stroke-width="14.4" stroke-linejoin="miter" style="mix-blend-mode:multiply" stroke-linejoin="round"/>
<polyline points="145.5,723.6 1395,723.6" fill="none" stroke="#dededb" stroke-width="6.4" stroke-linejoin="miter" style="mix-blend-mode:multiply"/>
<polyline points="145.5,744.2 1467.6,744.2" fill="none" stroke="#f8f8f7" stroke-width="14.4" stroke-linejoin="miter" style="mix-blend-mode:multiply" stroke-linejoin="round"/>
<polyline points="145.5,744.2 1467.6,744.2" fill="none" stroke="#f2f2ee" stroke-width="6.4" stroke-linejoin="miter" style="mix-blend-mode:multiply"/>
<polyline points="1467.6,579.4 1178.5,579.4 1178.5,1300.4 145.5,1300.4" fill="none" stroke="#f3f7f3" stroke-width="13.5" stroke-linejoin="miter" style="mix-blend-mode:multiply" stroke-linejoin="round"/>
<polyline points="1467.6,579.4 1178.5,579.4 1178.5,1300.4 145.5,1300.4" fill="none" stroke="#e7eee7" stroke-width="6" stroke-linejoin="miter" style="mix-blend-mode:multiply"/>
<polyline points="145.5,764.8 355,764.8" fill="none" stroke="#fbe8fc" stroke-width="15.75" stroke-linejoin="miter" style="mix-blend-mode:multiply" stroke-linejoin="round"/>
<polyline points="145.5,764.8 355,764.8" fill="none" stroke="#f6cdfa" stroke-width="7" stroke-linejoin="miter" style="mix-blend-mode:multiply"/>
<polyline points="1467.6,764.8 1198.8,764.8 1198.8,1321.0 145.5,1321.0" fill="none" stroke="#fbe8fc" stroke-width="15.75" stroke-linejoin="miter" style="mix-blend-mode:multiply" stroke-linejoin="round"/>
<polyline points="1467.6,764.8 1198.8,764.8 1198.8,1321.0 145.5,1321.0" fill="none" stroke="#f6cdfa" stroke-width="7" stroke-linejoin="miter" style="mix-blend-mode:multiply"/>
<polyline points="1467.6,785.4 1221.5,785.4 1221.5,1197.4 145.5,1197.4" fill="none" stroke="#fcf5f4" stroke-width="12.15" stroke-linejoin="miter" style="mix-blend-mode:multiply" stroke-linejoin="round"/>
<polyline points="1467.6,785.4 1221.5,785.4 1221.5,1197.4 145.5,1197.4" fill="none" stroke="#f8e9e5" stroke-width="5.4" stroke-linejoin="miter" style="mix-blend-mode:multiply"/>
<polyline points="145.5,806.0 355,806.0" fill="none" stroke="#fbfbfb" stroke-width="14.4" stroke-linejoin="miter" style="mix-blend-mode:multiply" stroke-linejoin="round"/>
<polyline points="145.5,806.0 355,806.0" fill="none" stroke="#f7f7f7" stroke-width="6.4" stroke-linejoin="miter" style="mix-blend-mode:multiply"/>
<polyline points="145.5,826.6 375,826.6" fill="none" stroke="#f5f5ea" stroke-width="14.4" stroke-linejoin="miter" style="mix-blend-mode:multiply" stroke-linejoin="round"/>
<polyline points="145.5,826.6 375,826.6" fill="none" stroke="#ebebd2" stroke-width="6.4" stroke-linejoin="miter" style="mix-blend-mode:multiply"/>
<polyline points="145.5,867.8 335,867.8" fill="none" stroke="#fdf6f6" stroke-width="18.0" stroke-linejoin="miter" style="mix-blend-mode:multiply" stroke-linejoin="round"/>
<polyline points="145.5,867.8 335,867.8" fill="none" stroke="#fceded" stroke-width="8" stroke-linejoin="miter" style="mix-blend-mode:multiply"/>
<polyline points="145.5,929.6 1467.6,929.6" fill="none" stroke="#fbfbfb" stroke-width="14.4" stroke-linejoin="miter" style="mix-blend-mode:multiply" stroke-linejoin="round"/>
<polyline points="145.5,929.6 1467.6,929.6" fill="none" stroke="#f7f7f7" stroke-width="6.4" stroke-linejoin="miter" style="mix-blend-mode:multiply"/>
<polyline points="145.5,950.2 1467.6,950.2" fill="none" stroke="#fcfcfc" stroke-width="14.4" stroke-linejoin="miter" style="mix-blend-mode:multiply" stroke-linejoin="round"/>
<polyline points="145.5,950.2 1467.6,950.2" fill="none" stroke="#f9f9f9" stroke-width="6.4" stroke-linejoin="miter" style="mix-blend-mode:multiply"/>
<polyline points="145.5,970.8 1467.6,970.8" fill="none" stroke="#fdfde8" stroke-width="18.0" stroke-linejoin="miter" style="mix-blend-mode:multiply" stroke-linejoin="round"/>
<polyline points="145.5,970.8 1467.6,970.8" fill="none" stroke="#fcfcd1" stroke-width="8" stroke-linejoin="miter" style="mix-blend-mode:multiply"/>
<polyline points="145.5,1013.0 559,1013.0" fill="none" stroke="#edf6ea" stroke-width="15.75" stroke-linejoin="miter" style="mix-blend-mode:multiply" stroke-linejoin="round"/>
<polyline points="145.5,1013.0 559,1013.0" fill="none" stroke="#daedd2" stroke-width="7" stroke-linejoin="miter" style="mix-blend-mode:multiply"/>
<polyline points="559,1013.0 559,1697" fill="none" stroke="#f5faf3" stroke-width="29.25" stroke-linejoin="miter" style="mix-blend-mode:multiply" stroke-linejoin="round"/>
<polyline points="559,1013.0 559,1697" fill="none" stroke="#ecf6e9" stroke-width="13" stroke-linejoin="miter" style="mix-blend-mode:multiply"/>
<polyline points="557.2,1013.0 557.2,1697" fill="none" stroke="#e9f2e7" stroke-width="6.3" stroke-linejoin="miter" style="mix-blend-mode:multiply" stroke-linejoin="round"/>
<polyline points="557.2,1013.0 557.2,1697" fill="none" stroke="#acd0a4" stroke-width="2.8" stroke-linejoin="miter" style="mix-blend-mode:multiply"/>
<polyline points="145.5,1032.6 1467.6,1032.6" fill="none" stroke="#edf5ea" stroke-width="15.75" stroke-linejoin="miter" style="mix-blend-mode:multiply" stroke-linejoin="round"/>
<polyline points="145.5,1032.6 1467.6,1032.6" fill="none" stroke="#d9ead4" stroke-width="7" stroke-linejoin="miter" style="mix-blend-mode:multiply"/>
<polyline points="145.5,1054.0 580,1054.0 580,1697" fill="none" stroke="#e8e7e9" stroke-width="15.75" stroke-linejoin="miter" style="mix-blend-mode:multiply" stroke-linejoin="round"/>
<polyline points="145.5,1054.0 580,1054.0 580,1697" fill="none" stroke="#cdccd0" stroke-width="7" stroke-linejoin="miter" style="mix-blend-mode:multiply"/>
<polyline points="145.5,1073.8 536,1073.8 536,1697" fill="none" stroke="#fafafa" stroke-width="14.4" stroke-linejoin="miter" style="mix-blend-mode:multiply" stroke-linejoin="round"/>
<polyline points="145.5,1073.8 536,1073.8 536,1697" fill="none" stroke="#f6f6f6" stroke-width="6.4" stroke-linejoin="miter" style="mix-blend-mode:multiply"/>
<polyline points="145.5,1095.4 1467.6,1095.4" fill="none" stroke="#e9e9ea" stroke-width="17.099999999999998" stroke-linejoin="miter" style="mix-blend-mode:multiply" stroke-linejoin="round"/>
<polyline points="145.5,1095.4 1467.6,1095.4" fill="none" stroke="#d2d1d5" stroke-width="7.6" stroke-linejoin="miter" style="mix-blend-mode:multiply"/>
<polyline points="145.5,1260.2 1467.6,1260.2" fill="none" stroke="#e9e9ea" stroke-width="17.099999999999998" stroke-linejoin="miter" style="mix-blend-mode:multiply" stroke-linejoin="round"/>
<polyline points="145.5,1260.2 1467.6,1260.2" fill="none" stroke="#d2d1d5" stroke-width="7.6" stroke-linejoin="miter" style="mix-blend-mode:multiply"/>
<polyline points="1137.1,1488 785.5,1488 785.5,1721" fill="none" stroke="#f7eae8" stroke-width="16.650000000000002" stroke-linejoin="miter" style="mix-blend-mode:multiply" stroke-linejoin="round"/>
<polyline points="1137.1,1488 785.5,1488 785.5,1721" fill="none" stroke="#f0d4ce" stroke-width="7.4" stroke-linejoin="miter" style="mix-blend-mode:multiply"/>
<polyline points="889.5,1721 889.5,1507.5 1199.5,1507.5 1199.5,1721" fill="none" stroke="#e5e5e7" stroke-width="18.0" stroke-linejoin="miter" style="mix-blend-mode:multiply" stroke-linejoin="round"/>
<polyline points="889.5,1721 889.5,1507.5 1199.5,1507.5 1199.5,1721" fill="none" stroke="#cacace" stroke-width="8" stroke-linejoin="miter" style="mix-blend-mode:multiply"/>
<polyline points="828,1721 828,1529.5 1155,1529.5 1155,1721" fill="none" stroke="#fdfce1" stroke-width="20.25" stroke-linejoin="miter" style="mix-blend-mode:multiply" stroke-linejoin="round"/>
<polyline points="828,1721 828,1529.5 1155,1529.5 1155,1721" fill="none" stroke="#fcfac1" stroke-width="9" stroke-linejoin="miter" style="mix-blend-mode:multiply"/>
<polyline points="808,1721 808,1549.5 1012,1549.5 1012,1654" fill="none" stroke="#f5f2e9" stroke-width="16.650000000000002" stroke-linejoin="miter" style="mix-blend-mode:multiply" stroke-linejoin="round"/>
<polyline points="808,1721 808,1549.5 1012,1549.5 1012,1654" fill="none" stroke="#ece5d1" stroke-width="7.4" stroke-linejoin="miter" style="mix-blend-mode:multiply"/>
<polyline points="1054,1654 1054,1549.5 1116,1549.5 1116,1721" fill="none" stroke="#f5f2e9" stroke-width="16.650000000000002" stroke-linejoin="miter" style="mix-blend-mode:multiply" stroke-linejoin="round"/>
<polyline points="1054,1654 1054,1549.5 1116,1549.5 1116,1721" fill="none" stroke="#ece5d1" stroke-width="7.4" stroke-linejoin="miter" style="mix-blend-mode:multiply"/>
<polyline points="359,767.8 366,772.8 366,798.0 359,803.0" fill="none" stroke="#bbb" stroke-width="1.6" stroke-linejoin="miter" />
<circle cx="355.5" cy="764.8" r="4.4" fill="#2a2a2e"/>
<circle cx="356" cy="806.0" r="4.4" fill="#2a2a2e"/>
<circle cx="374.5" cy="826.6" r="4.4" fill="#2a2a2e"/>
<circle cx="335" cy="867.8" r="4.4" fill="#2a2a2e"/>
<circle cx="1137.1" cy="1487.5" r="3.8" fill="#555"/>
<circle cx="1012" cy="1654" r="4.8" fill="#2a2a2e"/>
<circle cx="1054" cy="1654" r="4.8" fill="#2a2a2e"/>
<line x1="580" y1="1556.5" x2="580" y2="1565" stroke="#fff" stroke-width="7" />
<circle cx="580" cy="1548.5" r="3.6" fill="#666"/>
<circle cx="580" cy="1571" r="3.6" fill="#666"/>
<circle cx="889.5" cy="1713" r="4.2" fill="#777"/>
<circle cx="951.4" cy="1713" r="4.2" fill="#777"/>
<circle cx="1199.5" cy="1640" r="4.2" fill="#777"/>
<line x1="868.3" y1="1631" x2="868.3" y2="1713" stroke="#5c5c5c" stroke-width="6.4" />
<line x1="930" y1="1631" x2="930" y2="1713" stroke="#5c5c5c" stroke-width="6.4" />
<circle cx="1163" cy="1641" r="3.6" fill="#888"/>
<circle cx="1207" cy="1641" r="3.6" fill="#888"/>
<circle cx="1113" cy="1641" r="3.6" fill="#bbb"/>
<circle cx="1140" cy="1641" r="3.6" fill="#c9a"/>
<circle cx="790" cy="1690" r="3.6" fill="#caa"/>
<circle cx="1150" cy="1612" r="3.6" fill="#d99"/>
</g>
<g filter="url(#bt)">
<text x="190" y="592.6" text-anchor="start" font-size="12.5" fill="#707070" stroke="#707070" stroke-width="1.0" >КРА-БЕЛ</text>
<text x="190" y="613.2" text-anchor="start" font-size="12.5" fill="#707070" stroke="#707070" stroke-width="1.0" >ФИО-БЕЛ</text>
<text x="190" y="633.8" text-anchor="start" font-size="12.5" fill="#707070" stroke="#707070" stroke-width="1.0" >КОР-БЕЛ</text>
<text x="190" y="654.4" text-anchor="start" font-size="12.5" fill="#707070" stroke="#707070" stroke-width="1.0" >КРА-СЕР</text>
<text x="190" y="675.0" text-anchor="start" font-size="12.5" fill="#707070" stroke="#707070" stroke-width="1.0" >КОР-СЕР</text>
<text x="190" y="695.6" text-anchor="start" font-size="12.5" fill="#707070" stroke="#707070" stroke-width="1.0" >СИН-БЕЛ</text>
<text x="190" y="716.2" text-anchor="start" font-size="12.5" fill="#707070" stroke="#707070" stroke-width="1.0" >ЗЕЛ-КОР</text>
<text x="190" y="736.8000000000001" text-anchor="start" font-size="12.5" fill="#707070" stroke="#707070" stroke-width="1.0" >НЕИЗВ НЕИЗВ</text>
<text x="190" y="757.4" text-anchor="start" font-size="12.5" fill="#707070" stroke="#707070" stroke-width="1.0" >НЕИЗ</text>
<text x="190" y="798.6" text-anchor="start" font-size="12.5" fill="#707070" stroke="#707070" stroke-width="1.0" >БЕЛ</text>
<text x="190" y="819.2" text-anchor="start" font-size="12.5" fill="#707070" stroke="#707070" stroke-width="1.0" >ЖЁЛ</text>
<text x="190" y="860.4" text-anchor="start" font-size="12.5" fill="#707070" stroke="#707070" stroke-width="1.0" >КРА-БЕЛ</text>
<text x="190" y="881.0" text-anchor="start" font-size="12.5" fill="#707070" stroke="#707070" stroke-width="1.0" >КРА-ЖЁЛ</text>
<text x="190" y="922.2" text-anchor="start" font-size="12.5" fill="#707070" stroke="#707070" stroke-width="1.0" >БЕЛ</text>
<text x="190" y="942.8000000000001" text-anchor="start" font-size="12.5" fill="#707070" stroke="#707070" stroke-width="1.0" >БЕЛ</text>
<text x="190" y="963.4" text-anchor="start" font-size="12.5" fill="#707070" stroke="#707070" stroke-width="1.0" >ЖЁЛТ</text>
<text x="190" y="1004.6" text-anchor="start" font-size="12.5" fill="#707070" stroke="#707070" stroke-width="1.0" >ЗЕЛ</text>
<text x="190" y="1025.1999999999998" text-anchor="start" font-size="12.5" fill="#707070" stroke="#707070" stroke-width="1.0" >ЗЕЛ</text>
<text x="190" y="1045.8" text-anchor="start" font-size="12.5" fill="#707070" stroke="#707070" stroke-width="1.0" >ЧЁРНЫ</text>
<text x="190" y="1066.3999999999999" text-anchor="start" font-size="12.5" fill="#707070" stroke="#707070" stroke-width="1.0" >БЕЛ</text>
<text x="190" y="1087.0" text-anchor="start" font-size="12.5" fill="#707070" stroke="#707070" stroke-width="1.0" >ЧЁРНЫ</text>
<text x="190" y="1190.0" text-anchor="start" font-size="12.5" fill="#707070" stroke="#707070" stroke-width="1.0" >КРА-КОРИ</text>
<text x="190" y="1251.8" text-anchor="start" font-size="12.5" fill="#707070" stroke="#707070" stroke-width="1.0" >ЧЁРНЫ</text>
<text x="190" y="1293.0" text-anchor="start" font-size="12.5" fill="#707070" stroke="#707070" stroke-width="1.0" >НЕИЗ ЗЕЛ</text>
<text x="190" y="1313.6" text-anchor="start" font-size="12.5" fill="#707070" stroke="#707070" stroke-width="1.0" >НЕИЗ</text>
<text x="227" y="823.2" text-anchor="start" font-size="12.5" fill="#707070" stroke="#707070" stroke-width="1.0" >ДАТЧИК ВЫСОТЫ</text>
<text x="227" y="922.2" text-anchor="start" font-size="12.5" fill="#707070" stroke="#707070" stroke-width="1.0" >ШИНА CAN</text>
<text x="227" y="1027.1999999999998" text-anchor="start" font-size="12.5" fill="#707070" stroke="#707070" stroke-width="1.0" >ШИНА-CAN</text>
<text x="149.5" y="573.0" text-anchor="start" font-size="11.5" fill="#8c8c8c" stroke="#8c8c8c" stroke-width="0.4" >10</text>
<path d="M142.4,572.6 Q150,579.4 142.4,586.1999999999999" fill="none" stroke="#999" stroke-width="1.3"/>
<text x="149.5" y="593.6" text-anchor="start" font-size="11.5" fill="#8c8c8c" stroke="#8c8c8c" stroke-width="0.4" >11</text>
<path d="M142.4,593.2 Q150,600.0 142.4,606.8" fill="none" stroke="#999" stroke-width="1.3"/>
<text x="149.5" y="614.2" text-anchor="start" font-size="11.5" fill="#8c8c8c" stroke="#8c8c8c" stroke-width="0.4" >12</text>
<path d="M142.4,613.8000000000001 Q150,620.6 142.4,627.4" fill="none" stroke="#999" stroke-width="1.3"/>
<text x="149.5" y="634.8" text-anchor="start" font-size="11.5" fill="#8c8c8c" stroke="#8c8c8c" stroke-width="0.4" >13</text>
<path d="M142.4,634.4 Q150,641.1999999999999 142.4,647.9999999999999" fill="none" stroke="#999" stroke-width="1.3"/>
<text x="149.5" y="655.4" text-anchor="start" font-size="11.5" fill="#8c8c8c" stroke="#8c8c8c" stroke-width="0.4" >14</text>
<path d="M142.4,655.0 Q150,661.8 142.4,668.5999999999999" fill="none" stroke="#999" stroke-width="1.3"/>
<text x="149.5" y="676.0" text-anchor="start" font-size="11.5" fill="#8c8c8c" stroke="#8c8c8c" stroke-width="0.4" >15</text>
<path d="M142.4,675.6 Q150,682.4 142.4,689.1999999999999" fill="none" stroke="#999" stroke-width="1.3"/>
<text x="149.5" y="696.6" text-anchor="start" font-size="11.5" fill="#8c8c8c" stroke="#8c8c8c" stroke-width="0.4" >16</text>
<path d="M142.4,696.2 Q150,703.0 142.4,709.8" fill="none" stroke="#999" stroke-width="1.3"/>
<text x="149.5" y="717.2" text-anchor="start" font-size="11.5" fill="#8c8c8c" stroke="#8c8c8c" stroke-width="0.4" >17</text>
<path d="M142.4,716.8000000000001 Q150,723.6 142.4,730.4" fill="none" stroke="#999" stroke-width="1.3"/>
<text x="149.5" y="737.8000000000001" text-anchor="start" font-size="11.5" fill="#8c8c8c" stroke="#8c8c8c" stroke-width="0.4" >18</text>
<path d="M142.4,737.4000000000001 Q150,744.2 142.4,751.0" fill="none" stroke="#999" stroke-width="1.3"/>
<text x="149.5" y="758.4" text-anchor="start" font-size="11.5" fill="#8c8c8c" stroke="#8c8c8c" stroke-width="0.4" >19</text>
<path d="M142.4,758.0 Q150,764.8 142.4,771.5999999999999" fill="none" stroke="#999" stroke-width="1.3"/>
<text x="149.5" y="779.0" text-anchor="start" font-size="11.5" fill="#8c8c8c" stroke="#8c8c8c" stroke-width="0.4" >20</text>
<path d="M142.4,778.6 Q150,785.4 142.4,792.1999999999999" fill="none" stroke="#999" stroke-width="1.3"/>
<text x="149.5" y="799.6" text-anchor="start" font-size="11.5" fill="#8c8c8c" stroke="#8c8c8c" stroke-width="0.4" >21</text>
<path d="M142.4,799.2 Q150,806.0 142.4,812.8" fill="none" stroke="#999" stroke-width="1.3"/>
<text x="149.5" y="820.2" text-anchor="start" font-size="11.5" fill="#8c8c8c" stroke="#8c8c8c" stroke-width="0.4" >22</text>
<path d="M142.4,819.8000000000001 Q150,826.6 142.4,833.4" fill="none" stroke="#999" stroke-width="1.3"/>
<text x="149.5" y="840.8000000000001" text-anchor="start" font-size="11.5" fill="#8c8c8c" stroke="#8c8c8c" stroke-width="0.4" >23</text>
<path d="M142.4,840.4000000000001 Q150,847.2 142.4,854.0" fill="none" stroke="#999" stroke-width="1.3"/>
<text x="149.5" y="861.4" text-anchor="start" font-size="11.5" fill="#8c8c8c" stroke="#8c8c8c" stroke-width="0.4" >24</text>
<path d="M142.4,861.0 Q150,867.8 142.4,874.5999999999999" fill="none" stroke="#999" stroke-width="1.3"/>
<text x="149.5" y="882.0" text-anchor="start" font-size="11.5" fill="#8c8c8c" stroke="#8c8c8c" stroke-width="0.4" >25</text>
<path d="M142.4,881.6 Q150,888.4 142.4,895.1999999999999" fill="none" stroke="#999" stroke-width="1.3"/>
<text x="149.5" y="902.6" text-anchor="start" font-size="11.5" fill="#8c8c8c" stroke="#8c8c8c" stroke-width="0.4" >26</text>
<path d="M142.4,902.2 Q150,909.0 142.4,915.8" fill="none" stroke="#999" stroke-width="1.3"/>
<text x="149.5" y="923.2" text-anchor="start" font-size="11.5" fill="#8c8c8c" stroke="#8c8c8c" stroke-width="0.4" >27</text>
<path d="M142.4,922.8000000000001 Q150,929.6 142.4,936.4" fill="none" stroke="#999" stroke-width="1.3"/>
<text x="149.5" y="943.8000000000001" text-anchor="start" font-size="11.5" fill="#8c8c8c" stroke="#8c8c8c" stroke-width="0.4" >28</text>
<path d="M142.4,943.4000000000001 Q150,950.2 142.4,957.0" fill="none" stroke="#999" stroke-width="1.3"/>
<text x="149.5" y="964.4" text-anchor="start" font-size="11.5" fill="#8c8c8c" stroke="#8c8c8c" stroke-width="0.4" >29</text>
<path d="M142.4,964.0 Q150,970.8 142.4,977.5999999999999" fill="none" stroke="#999" stroke-width="1.3"/>
<text x="149.5" y="985.0" text-anchor="start" font-size="11.5" fill="#8c8c8c" stroke="#8c8c8c" stroke-width="0.4" >30</text>
<path d="M142.4,984.6 Q150,991.4 142.4,998.1999999999999" fill="none" stroke="#999" stroke-width="1.3"/>
<text x="149.5" y="1005.6" text-anchor="start" font-size="11.5" fill="#8c8c8c" stroke="#8c8c8c" stroke-width="0.4" >31</text>
<path d="M142.4,1005.2 Q150,1012.0 142.4,1018.8" fill="none" stroke="#999" stroke-width="1.3"/>
<text x="149.5" y="1026.1999999999998" text-anchor="start" font-size="11.5" fill="#8c8c8c" stroke="#8c8c8c" stroke-width="0.4" >32</text>
<path d="M142.4,1025.8 Q150,1032.6 142.4,1039.3999999999999" fill="none" stroke="#999" stroke-width="1.3"/>
<text x="149.5" y="1046.8" text-anchor="start" font-size="11.5" fill="#8c8c8c" stroke="#8c8c8c" stroke-width="0.4" >33</text>
<path d="M142.4,1046.4 Q150,1053.2 142.4,1060.0" fill="none" stroke="#999" stroke-width="1.3"/>
<text x="149.5" y="1067.3999999999999" text-anchor="start" font-size="11.5" fill="#8c8c8c" stroke="#8c8c8c" stroke-width="0.4" >34</text>
<path d="M142.4,1067.0 Q150,1073.8 142.4,1080.6" fill="none" stroke="#999" stroke-width="1.3"/>
<text x="149.5" y="1088.0" text-anchor="start" font-size="11.5" fill="#8c8c8c" stroke="#8c8c8c" stroke-width="0.4" >35</text>
<path d="M142.4,1087.6000000000001 Q150,1094.4 142.4,1101.2" fill="none" stroke="#999" stroke-width="1.3"/>
<text x="149.5" y="1108.6" text-anchor="start" font-size="11.5" fill="#8c8c8c" stroke="#8c8c8c" stroke-width="0.4" >36</text>
<path d="M142.4,1108.2 Q150,1115.0 142.4,1121.8" fill="none" stroke="#999" stroke-width="1.3"/>
<text x="149.5" y="1129.1999999999998" text-anchor="start" font-size="11.5" fill="#8c8c8c" stroke="#8c8c8c" stroke-width="0.4" >37</text>
<path d="M142.4,1128.8 Q150,1135.6 142.4,1142.3999999999999" fill="none" stroke="#999" stroke-width="1.3"/>
<text x="149.5" y="1149.8" text-anchor="start" font-size="11.5" fill="#8c8c8c" stroke="#8c8c8c" stroke-width="0.4" >38</text>
<path d="M142.4,1149.4 Q150,1156.2 142.4,1163.0" fill="none" stroke="#999" stroke-width="1.3"/>
<text x="149.5" y="1170.4" text-anchor="start" font-size="11.5" fill="#8c8c8c" stroke="#8c8c8c" stroke-width="0.4" >39</text>
<path d="M142.4,1170.0000000000002 Q150,1176.8000000000002 142.4,1183.6000000000001" fill="none" stroke="#999" stroke-width="1.3"/>
<text x="149.5" y="1191.0" text-anchor="start" font-size="11.5" fill="#8c8c8c" stroke="#8c8c8c" stroke-width="0.4" >40</text>
<path d="M142.4,1190.6000000000001 Q150,1197.4 142.4,1204.2" fill="none" stroke="#999" stroke-width="1.3"/>
<text x="149.5" y="1211.6" text-anchor="start" font-size="11.5" fill="#8c8c8c" stroke="#8c8c8c" stroke-width="0.4" >41</text>
<path d="M142.4,1211.2 Q150,1218.0 142.4,1224.8" fill="none" stroke="#999" stroke-width="1.3"/>
<text x="149.5" y="1232.1999999999998" text-anchor="start" font-size="11.5" fill="#8c8c8c" stroke="#8c8c8c" stroke-width="0.4" >42</text>
<path d="M142.4,1231.8 Q150,1238.6 142.4,1245.3999999999999" fill="none" stroke="#999" stroke-width="1.3"/>
<text x="149.5" y="1252.8" text-anchor="start" font-size="11.5" fill="#8c8c8c" stroke="#8c8c8c" stroke-width="0.4" >43</text>
<path d="M142.4,1252.4 Q150,1259.2 142.4,1266.0" fill="none" stroke="#999" stroke-width="1.3"/>
<text x="149.5" y="1273.4" text-anchor="start" font-size="11.5" fill="#8c8c8c" stroke="#8c8c8c" stroke-width="0.4" >44</text>
<path d="M142.4,1273.0000000000002 Q150,1279.8000000000002 142.4,1286.6000000000001" fill="none" stroke="#999" stroke-width="1.3"/>
<text x="149.5" y="1294.0" text-anchor="start" font-size="11.5" fill="#8c8c8c" stroke="#8c8c8c" stroke-width="0.4" >45</text>
<path d="M142.4,1293.6000000000001 Q150,1300.4 142.4,1307.2" fill="none" stroke="#999" stroke-width="1.3"/>
<text x="149.5" y="1314.6" text-anchor="start" font-size="11.5" fill="#8c8c8c" stroke="#8c8c8c" stroke-width="0.4" >46</text>
<path d="M142.4,1314.2 Q150,1321.0 142.4,1327.8" fill="none" stroke="#999" stroke-width="1.3"/>
<text x="149.5" y="1335.1999999999998" text-anchor="start" font-size="11.5" fill="#8c8c8c" stroke="#8c8c8c" stroke-width="0.4" >47</text>
<path d="M142.4,1334.8 Q150,1341.6 142.4,1348.3999999999999" fill="none" stroke="#999" stroke-width="1.3"/>
<text x="149.5" y="1355.8" text-anchor="start" font-size="11.5" fill="#8c8c8c" stroke="#8c8c8c" stroke-width="0.4" >48</text>
<path d="M142.4,1355.4 Q150,1362.2 142.4,1369.0" fill="none" stroke="#999" stroke-width="1.3"/>
<text x="149.5" y="1376.4" text-anchor="start" font-size="11.5" fill="#8c8c8c" stroke="#8c8c8c" stroke-width="0.4" >49</text>
<path d="M142.4,1376.0000000000002 Q150,1382.8000000000002 142.4,1389.6000000000001" fill="none" stroke="#999" stroke-width="1.3"/>
<text x="149.5" y="1397.0" text-anchor="start" font-size="11.5" fill="#8c8c8c" stroke="#8c8c8c" stroke-width="0.4" >40</text>
<path d="M142.4,1396.6000000000001 Q150,1403.4 142.4,1410.2" fill="none" stroke="#999" stroke-width="1.3"/>
<text x="380" y="779.3" text-anchor="start" font-size="12.5" fill="#707070" stroke="#707070" stroke-width="1.1" >С/БЕЗ</text>
<text x="380" y="794.8" text-anchor="start" font-size="12.5" fill="#707070" stroke="#707070" stroke-width="1.1" >НАВИГА</text>
<text x="384" y="831.1" text-anchor="start" font-size="12.5" fill="#707070" stroke="#707070" stroke-width="1.1" >ПОДАЧА:</text>
<text x="390" y="845.6" text-anchor="start" font-size="12.5" fill="#707070" stroke="#707070" stroke-width="1.1" >ПЕРЕДАЧА ЗАДН ХОДА ВКЛЮЧЕНА</text>
<text x="350" y="872.3" text-anchor="start" font-size="12.5" fill="#707070" stroke="#707070" stroke-width="1.1" >ОСВЕЩЕНИЕ СТАРТЕР</text>
<text x="1462.5" y="572.0" text-anchor="end" font-size="12.5" fill="#707070" stroke="#707070" stroke-width="1.1" >ЗЕЛ-БЕЛ</text>
<text x="1479" y="581.8" text-anchor="start" font-size="11" fill="#999" stroke="#999" stroke-width="0.4" >3</text>
<text x="1462.5" y="592.6" text-anchor="end" font-size="12.5" fill="#707070" stroke="#707070" stroke-width="1.1" >КРА-БЕЛ</text>
<text x="1479" y="602.4" text-anchor="start" font-size="11" fill="#999" stroke="#999" stroke-width="0.4" >4</text>
<text x="1462.5" y="613.2" text-anchor="end" font-size="12.5" fill="#707070" stroke="#707070" stroke-width="1.1" >ФИО-БЕЛ</text>
<text x="1479" y="623.0" text-anchor="start" font-size="11" fill="#999" stroke="#999" stroke-width="0.4" >5</text>
<text x="1462.5" y="633.8" text-anchor="end" font-size="12.5" fill="#707070" stroke="#707070" stroke-width="1.1" >КОР-БЕЛ</text>
<text x="1479" y="643.5999999999999" text-anchor="start" font-size="11" fill="#999" stroke="#999" stroke-width="0.4" >6</text>
<text x="1462.5" y="654.4" text-anchor="end" font-size="12.5" fill="#707070" stroke="#707070" stroke-width="1.1" >КРА-СЕР</text>
<text x="1479" y="664.1999999999999" text-anchor="start" font-size="11" fill="#999" stroke="#999" stroke-width="0.4" >7</text>
<text x="1462.5" y="675.0" text-anchor="end" font-size="12.5" fill="#707070" stroke="#707070" stroke-width="1.1" >КОР-СЕР</text>
<text x="1479" y="684.8" text-anchor="start" font-size="11" fill="#999" stroke="#999" stroke-width="0.4" >8</text>
<text x="1462.5" y="695.6" text-anchor="end" font-size="12.5" fill="#707070" stroke="#707070" stroke-width="1.1" >СИН-БЕЛ</text>
<text x="1479" y="705.4" text-anchor="start" font-size="11" fill="#999" stroke="#999" stroke-width="0.4" >9</text>
<text x="1462.5" y="716.2" text-anchor="end" font-size="12.5" fill="#707070" stroke="#707070" stroke-width="1.1" >ЗЕЛ-КОР</text>
<text x="1479" y="726.0" text-anchor="start" font-size="11" fill="#999" stroke="#999" stroke-width="0.4" >10</text>
<text x="1462.5" y="736.8000000000001" text-anchor="end" font-size="12.5" fill="#707070" stroke="#707070" stroke-width="1.1" >НЕИЗВ НЕИЗВ</text>
<text x="1479" y="746.6" text-anchor="start" font-size="11" fill="#999" stroke="#999" stroke-width="0.4" >11</text>
<text x="1462.5" y="757.4" text-anchor="end" font-size="12.5" fill="#707070" stroke="#707070" stroke-width="1.1" >НЕИЗ</text>
<text x="1479" y="767.1999999999999" text-anchor="start" font-size="11" fill="#999" stroke="#999" stroke-width="0.4" >12</text>
<text x="1462.5" y="778.0" text-anchor="end" font-size="12.5" fill="#707070" stroke="#707070" stroke-width="1.1" >ФИО-БЕЛ</text>
<text x="1479" y="787.8" text-anchor="start" font-size="11" fill="#999" stroke="#999" stroke-width="0.4" >13</text>
<text x="1462.5" y="922.2" text-anchor="end" font-size="12.5" fill="#707070" stroke="#707070" stroke-width="1.1" >БЕЛ</text>
<text x="1479" y="932.0" text-anchor="start" font-size="11" fill="#999" stroke="#999" stroke-width="0.4" >20</text>
<text x="1462.5" y="942.8000000000001" text-anchor="end" font-size="12.5" fill="#707070" stroke="#707070" stroke-width="1.1" >БЕЛ</text>
<text x="1479" y="952.6" text-anchor="start" font-size="11" fill="#999" stroke="#999" stroke-width="0.4" >21</text>
<text x="1462.5" y="963.4" text-anchor="end" font-size="12.5" fill="#707070" stroke="#707070" stroke-width="1.1" >ЖЁЛТ</text>
<text x="1479" y="973.1999999999999" text-anchor="start" font-size="11" fill="#999" stroke="#999" stroke-width="0.4" >22</text>
<text x="1462.5" y="1025.1999999999998" text-anchor="end" font-size="12.5" fill="#707070" stroke="#707070" stroke-width="1.1" >ЗЕЛ</text>
<text x="1479" y="1035.0" text-anchor="start" font-size="11" fill="#999" stroke="#999" stroke-width="0.4" >25</text>
<text x="1462.5" y="1087.0" text-anchor="end" font-size="12.5" fill="#707070" stroke="#707070" stroke-width="1.1" >ЧЁРНЫ</text>
<text x="1479" y="1096.8000000000002" text-anchor="start" font-size="11" fill="#999" stroke="#999" stroke-width="0.4" >28</text>
<text x="1462.5" y="1251.8" text-anchor="end" font-size="12.5" fill="#707070" stroke="#707070" stroke-width="1.1" >ЧЁРНЫ</text>
<text x="1479" y="1261.6000000000001" text-anchor="start" font-size="11" fill="#999" stroke="#999" stroke-width="0.4" >36</text>
<text x="1425" y="922.2" text-anchor="end" font-size="12.5" fill="#707070" stroke="#707070" stroke-width="1.1" >ШИНА CAN</text>
<text x="1425" y="1027.1999999999998" text-anchor="end" font-size="12.5" fill="#707070" stroke="#707070" stroke-width="1.1" >ШИНА-CAN</text>
<text x="12" y="1439.5" text-anchor="start" font-size="12.5" fill="#a4a49c" stroke="#a4a49c" stroke-width="1.1" >БЛОК УПР АУДИО</text>
<text x="12" y="1456.5" text-anchor="start" font-size="12.5" fill="#a4a4a4" stroke="#a4a4a4" stroke-width="1.1" >ПРИЁМ СИГНАЛ</text>
<text x="149.5" y="1415.4" text-anchor="start" font-size="12" fill="#dca4b4" stroke="#dca4b4" stroke-width="1.1" >1B</text>
<text x="557.5" y="1783.5" text-anchor="middle" font-size="12.5" fill="#8e8e8e" stroke="#8e8e8e" stroke-width="1.1" >КАМЕРА ЗАДН ВИДА</text>
<text x="557.5" y="1798.5" text-anchor="middle" font-size="12.5" fill="#8e8e8e" stroke="#8e8e8e" stroke-width="1.1" >(ЦЕНТР ЗАДН ЧАСТИ</text>
<text x="557.5" y="1813.5" text-anchor="middle" font-size="12.5" fill="#8e8e8e" stroke="#8e8e8e" stroke-width="1.1" >ДВЕРИ БАГАЖ)</text>
<text x="876" y="1783.5" text-anchor="middle" font-size="12.5" fill="#8e8e8e" stroke="#8e8e8e" stroke-width="1.1" >ИСТОЧНИК ПИТАНИЯ USB</text>
<text x="876" y="1798.5" text-anchor="middle" font-size="12.5" fill="#8e8e8e" stroke="#8e8e8e" stroke-width="1.1" >(НИЖНЯЯ ПЕРЕД КОНСОЛИ</text>
<text x="876" y="1813.5" text-anchor="middle" font-size="12.5" fill="#8e8e8e" stroke="#8e8e8e" stroke-width="1.1" >(ЛЕВАЯ СТОРОН. A+)</text>
<text x="1155" y="1785.5" text-anchor="middle" font-size="12.5" fill="#8e8e8e" stroke="#8e8e8e" stroke-width="1.1" >МУЛЬТМЕД</text>
<text x="1155" y="1800.5" text-anchor="middle" font-size="12.5" fill="#8e8e8e" stroke="#8e8e8e" stroke-width="1.1" >ПАНЕЛЬ РАЗЪЁМОВ</text>
<text x="1150" y="1830.5" text-anchor="middle" font-size="12.5" fill="#8e8e8e" stroke="#8e8e8e" stroke-width="1.1" >(В ЗАДНЕМ ЦЕНТРАЛЬ</text>
<text x="1150" y="1845.5" text-anchor="middle" font-size="12.5" fill="#8e8e8e" stroke="#8e8e8e" stroke-width="1.1" >КОНСОЛИ)</text>
<text x="1033" y="1678.5" text-anchor="middle" font-size="12.5" fill="#8e8e8e" stroke="#8e8e8e" stroke-width="1.1" >РАЗЪ</text>
<text x="1033" y="1694.0" text-anchor="middle" font-size="12.5" fill="#8e8e8e" stroke="#8e8e8e" stroke-width="1.1" >(ПЕРЕД ЦЕНТР</text>
<text x="1033" y="1709.5" text-anchor="middle" font-size="12.5" fill="#8e8e8e" stroke="#8e8e8e" stroke-width="1.1" >ПРИБОР</text>
<text x="1033" y="1725.0" text-anchor="middle" font-size="12.5" fill="#8e8e8e" stroke="#8e8e8e" stroke-width="1.1" >ПАНЕЛИ)</text>
<text x="12" y="1848.5" text-anchor="start" font-size="12" fill="#a8a8a8" stroke="#a8a8a8" stroke-width="0.7" >G0346020974512 RU</text>
<text transform="translate(567.5,1528) rotate(-90)" text-anchor="start" font-size="12.5" fill="#707070" stroke="#707070" stroke-width="1.1">ЗЕЛ</text>
<text transform="translate(567.5,1654) rotate(-90)" text-anchor="start" font-size="12.5" fill="#707070" stroke="#707070" stroke-width="1.1">ЗЕЛ</text>
<text transform="translate(528,1655) rotate(-90)" text-anchor="start" font-size="12.5" fill="#707070" stroke="#707070" stroke-width="1.1">КОР</text>
<text transform="translate(550.5,1655) rotate(-90)" text-anchor="start" font-size="12.5" fill="#707070" stroke="#707070" stroke-width="1.1">СИН</text>
<text transform="translate(541,1575) rotate(-90)" text-anchor="start" font-size="12.5" fill="#ccc" stroke="#ccc" stroke-width="1.1">НЕИЗВ</text>
<text transform="translate(1127.5,1458) rotate(-90)" text-anchor="start" font-size="12.5" fill="#707070" stroke="#707070" stroke-width="1.1">КРА-КОР</text>
<text transform="translate(777,1690) rotate(-90)" text-anchor="start" font-size="12.5" fill="#707070" stroke="#707070" stroke-width="1.1">КРА-КО</text>
<text transform="translate(797.5,1690) rotate(-90)" text-anchor="start" font-size="12.5" fill="#707070" stroke="#707070" stroke-width="1.1">КРА-КОРИЧ</text>
<text transform="translate(818,1690) rotate(-90)" text-anchor="start" font-size="12.5" fill="#707070" stroke="#707070" stroke-width="1.1">КОРИ</text>
<text transform="translate(862,1690) rotate(-90)" text-anchor="start" font-size="12.5" fill="#707070" stroke="#707070" stroke-width="1.1">НЕИЗВ</text>
<text transform="translate(922,1690) rotate(-90)" text-anchor="start" font-size="12.5" fill="#707070" stroke="#707070" stroke-width="1.1">НЕИЗВ</text>
<text transform="translate(1006,1620) rotate(-90)" text-anchor="start" font-size="12.5" fill="#707070" stroke="#707070" stroke-width="1.1">КОР-ЖЁЛ</text>
<text transform="translate(1036,1620) rotate(-90)" text-anchor="start" font-size="12.5" fill="#707070" stroke="#707070" stroke-width="1.1">ЖЁЛ-КО</text>
<text transform="translate(1045,1606) rotate(-90)" text-anchor="start" font-size="12.5" fill="#707070" stroke="#707070" stroke-width="1.1">ЖЁЛ</text>
<text transform="translate(1097,1620) rotate(-90)" text-anchor="start" font-size="12.5" fill="#707070" stroke="#707070" stroke-width="1.1">НЕИЗВ</text>
<text transform="translate(1107,1620) rotate(-90)" text-anchor="start" font-size="12.5" fill="#707070" stroke="#707070" stroke-width="1.1">НЕИЗВ</text>
<text transform="translate(1127,1620) rotate(-90)" text-anchor="start" font-size="12.5" fill="#707070" stroke="#707070" stroke-width="1.1">КОРИ</text>
<text transform="translate(1147,1622) rotate(-90)" text-anchor="start" font-size="12.5" fill="#c77" stroke="#c77" stroke-width="1.1">КР</text>
<text transform="translate(1191,1618) rotate(-90)" text-anchor="start" font-size="12.5" fill="#707070" stroke="#707070" stroke-width="1.1">НЕИЗ</text>
<text transform="translate(1107,1712) rotate(-90)" text-anchor="start" font-size="12.5" fill="#707070" stroke="#707070" stroke-width="1.1">КОР-ЖЁ</text>
<text transform="translate(1121,1712) rotate(-90)" text-anchor="start" font-size="12.5" fill="#707070" stroke="#707070" stroke-width="1.1">НЕИЗВ</text>
<text transform="translate(1141,1712) rotate(-90)" text-anchor="start" font-size="12.5" fill="#707070" stroke="#707070" stroke-width="1.1">КРА-К</text>
<text transform="translate(1161,1712) rotate(-90)" text-anchor="start" font-size="12.5" fill="#707070" stroke="#707070" stroke-width="1.1">ЖЁЛ-К</text>
<text transform="translate(1191,1704) rotate(-90)" text-anchor="start" font-size="12.5" fill="#707070" stroke="#707070" stroke-width="1.1">ЧЁРН</text>
</g>
</g>
</svg></body></html>
